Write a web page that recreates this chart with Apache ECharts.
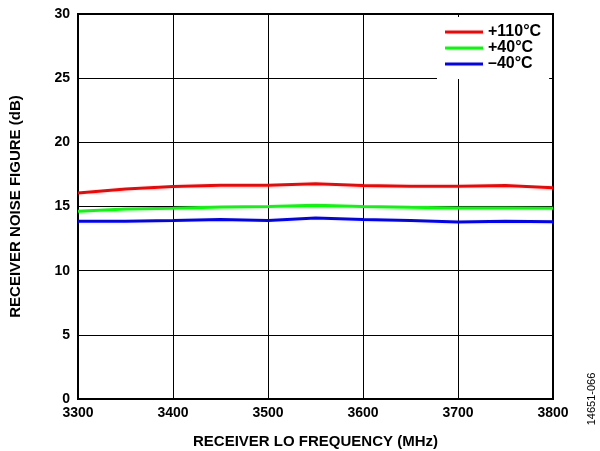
<!DOCTYPE html>
<html><head><meta charset="utf-8">
<script src="https://cdn.jsdelivr.net/npm/echarts@6/dist/echarts.min.js"></script>
<style>html,body{margin:0;padding:0;background:#fff}#c{width:600px;height:451px}</style>
</head><body><div id="c"></div>
<script>
var freqs = [3300,3350,3400,3450,3500,3550,3600,3650,3700,3750,3800];
var nf110 = [16.05,16.37,16.55,16.65,16.65,16.78,16.63,16.57,16.57,16.63,16.47];
var nf40 = [14.63,14.81,14.86,14.96,15.0,15.1,15.0,14.94,14.89,14.89,14.86];
var nfm40 = [13.85,13.85,13.9,13.98,13.9,14.11,13.98,13.9,13.8,13.85,13.82];
var seriesNames = ['+110°C','+40°C','\u201340°C'];
var colors = ['#ff0000','#00ff00','#0000ff'];
function pairs(v){return freqs.map(function(f,i){return [f,v[i]];});}
var font = '"Liberation Sans", Arial, sans-serif';
var chart = echarts.init(document.getElementById('c'), null, {renderer:'canvas'});
chart.setOption({
  animation:false,
  backgroundColor:'#fff',
  grid:{left:78,right:47,top:14,bottom:52,show:true,borderColor:'#000',borderWidth:2,backgroundColor:'transparent',outerBoundsMode:'none',containLabel:false},
  legend:{
    orient:'vertical', left:437, top:17, backgroundColor:'#fff',
    padding:[7,8,7,8], itemGap:0, itemWidth:38, itemHeight:3, icon:'rect',
    textStyle:{fontFamily:font,fontWeight:'bold',fontSize:16,color:'#000',padding:[0,0,0,0]},
    data:seriesNames
  },
  xAxis:{type:'value',min:3300,max:3800,interval:100,
    axisLine:{show:false},axisTick:{show:false},
    splitLine:{show:true,lineStyle:{color:'#000',width:1}},
    axisLabel:{fontFamily:font,fontWeight:'bold',fontSize:14,color:'#000',margin:7,formatter:function(v){return String(v);}},
    name:'RECEIVER LO FREQUENCY (MHz)',nameLocation:'middle',nameGap:35,
    nameTextStyle:{fontFamily:font,fontWeight:'bold',fontSize:15,color:'#000'}},
  yAxis:{type:'value',min:0,max:30,interval:5,
    axisLine:{show:false},axisTick:{show:false},
    splitLine:{show:true,lineStyle:{color:'#000',width:1}},
    axisLabel:{fontFamily:font,fontWeight:'bold',fontSize:14,color:'#000',margin:8},
    name:'RECEIVER NOISE FIGURE (dB)',nameLocation:'middle',nameGap:55,nameRotate:90,
    nameTextStyle:{fontFamily:font,fontWeight:'bold',fontSize:15,color:'#000'}},
  series:[
    {name:seriesNames[0],type:'line',data:pairs(nf110),showSymbol:false,symbol:'none',lineStyle:{color:colors[0],width:3},itemStyle:{color:colors[0]}},
    {name:seriesNames[1],type:'line',data:pairs(nf40),showSymbol:false,symbol:'none',lineStyle:{color:colors[1],width:3},itemStyle:{color:colors[1]}},
    {name:seriesNames[2],type:'line',data:pairs(nfm40),showSymbol:false,symbol:'none',lineStyle:{color:colors[2],width:3},itemStyle:{color:colors[2]}}
  ],
  graphic:[{type:'text',x:592,y:399,rotation:Math.PI/2,
    style:{text:'14651-066',fontFamily:font,fontSize:11,fill:'#000',align:'center',verticalAlign:'middle'}}]
});
</script></body></html>
